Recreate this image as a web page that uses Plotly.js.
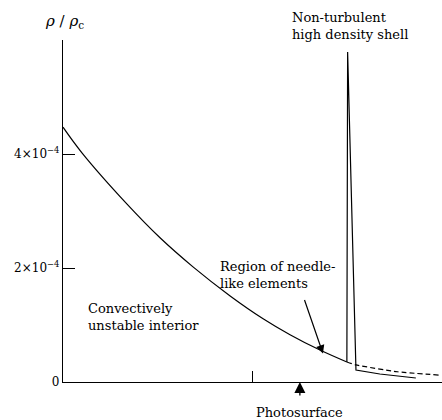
<!DOCTYPE html>
<html><head><meta charset="utf-8">
<script src="https://cdn.plot.ly/plotly-3.0.1.min.js"></script>
<style>body{margin:0;background:#fff}#g{width:442px;height:420px}</style>
</head><body><div id="g"></div>
<script>
// radius (arbitrary units, 0..1) and density rho/rho_c
const interiorX = [0, 0.050, 0.169, 0.256, 0.343, 0.441, 0.528, 0.599, 0.678, 0.749];
const interiorY = [4.47e-4, 4.02e-4, 3.12e-4, 2.53e-4, 2.02e-4, 1.51e-4, 1.11e-4, 0.83e-4, 0.56e-4, 0.35e-4];
const shellX = [0.749, 0.751, 0.773, 0.836, 0.931];
const shellY = [0.35e-4, 5.79e-4, 0.21e-4, 0.14e-4, 0.07e-4];
const extX = [0.749, 0.773, 0.882, 0.995];
const extY = [0.35e-4, 0.30e-4, 0.18e-4, 0.12e-4];
const yTickVals = [0, 2e-4, 4e-4];
const yTickText = ['0', '2×10<sup>−4</sup>', '4×10<sup>−4</sup>'];
const xTickVals = [0.501];
const photoX = 0.625;

const serif = 'DejaVu Serif, Liberation Serif, serif';
const line = {color: '#000', width: 1.2};
const traces = [
  {x: interiorX, y: interiorY, mode: 'lines', line: Object.assign({shape: 'spline', smoothing: 1}, line), hoverinfo: 'skip'},
  {x: shellX, y: shellY, mode: 'lines', line: line, hoverinfo: 'skip'},
  {x: extX, y: extY, mode: 'lines', line: {color: '#000', width: 1.2, dash: '5px,3px', shape: 'spline', smoothing: 0.5}, hoverinfo: 'skip'}
];
const tf = {family: serif, size: 13, color: '#000'};
const layout = {
  width: 442, height: 420,
  font: {family: serif, color: '#000'},
  margin: {l: 63, r: 0, t: 40, b: 38},
  paper_bgcolor: '#fff', plot_bgcolor: '#fff',
  showlegend: false,
  xaxis: {range: [0, 1], showgrid: false, zeroline: false, showline: true, linecolor: '#000', linewidth: 1.2,
          tickvals: xTickVals, ticktext: [''], ticks: 'inside', ticklen: 11, tickcolor: '#000', tickwidth: 1.2, fixedrange: true},
  yaxis: {range: [0, 6e-4], showgrid: false, zeroline: false, showline: true, linecolor: '#000', linewidth: 1.2,
          tickvals: yTickVals, ticktext: yTickText, ticks: 'inside', ticklen: 12, tickcolor: '#000', tickwidth: 1,
          tickfont: {family: serif, size: 12, color: '#000'}, fixedrange: true},
  annotations: [
    {xref: 'paper', yref: 'paper', x: 0.005, y: 1.02, xanchor: 'center', yanchor: 'bottom', showarrow: false,
     text: '<i>ρ</i> / <i>ρ</i><sub>c</sub>', font: {family: serif, size: 15, color: '#000'}},
    {xref: 'paper', yref: 'paper', x: 0.599, y: 1.095, xanchor: 'left', yanchor: 'top', align: 'left', showarrow: false,
     text: 'Non-turbulent<br>high density shell', font: tf},
    {xref: 'x', yref: 'y', x: 0.06, y: 1.45e-4, xanchor: 'left', yanchor: 'top', align: 'left', showarrow: false,
     text: 'Convectively<br>unstable interior', font: tf},
    {xref: 'x', yref: 'y', x: 0.41, y: 2.2e-4, xanchor: 'left', yanchor: 'top', align: 'left', showarrow: false,
     text: 'Region of needle-<br>like elements', font: tf},
    {xref: 'x', yref: 'y', x: 0.686, y: 0.5e-4, ax: -19, ay: -55, text: '', showarrow: true,
     arrowhead: 2, arrowsize: 1.4, arrowwidth: 1.2, arrowcolor: '#000'},
    {xref: 'x', yref: 'y', x: photoX, y: 0, ax: 0, ay: 15, text: '', showarrow: true,
     arrowhead: 2, arrowsize: 1.7, arrowwidth: 1.3, arrowcolor: '#000'},
    {xref: 'x', yref: 'paper', x: photoX, y: -0.06, xanchor: 'center', yanchor: 'top', showarrow: false,
     text: 'Photosurface', font: tf}
  ]
};
Plotly.newPlot('g', traces, layout, {staticPlot: true});
</script>
</body></html>
